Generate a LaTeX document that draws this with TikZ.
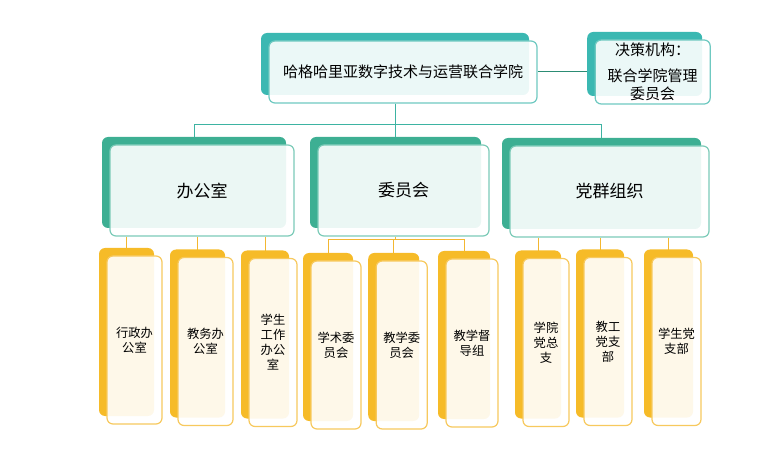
\documentclass[tikz,border=0pt]{standalone}
\usepackage{fontspec}
\newfontfamily\cjk{Noto Sans CJK SC}
\usetikzlibrary{positioning,shadows,backgrounds}

\definecolor{headteal}{HTML}{3BB8B2}
\definecolor{headline}{HTML}{6FC9C1}
\definecolor{deptgreen}{HTML}{3DAF93}
\definecolor{deptline}{HTML}{7CCBB8}
\definecolor{unityellow}{HTML}{F6BB28}
\definecolor{unitline}{HTML}{F7C95E}
\definecolor{linkteal}{HTML}{3DB3A2}
\definecolor{linkdark}{HTML}{2C8C74}
\definecolor{linkyellow}{HTML}{F3B731}

\tikzset{
  card/.style={draw, line width=1.2pt, rounded corners=6pt,
               fill=white, fill opacity=0.9, text opacity=1,
               inner sep=0pt, align=center},
  headcard/.style={card, draw=headline,
               general shadow={fill=headteal, draw=none, fill opacity=1,
                               shadow xshift=-8pt, shadow yshift=8pt},
               font=\cjk\fontsize{15}{18}\selectfont},
  deptcard/.style={card, draw=deptline, minimum height=91pt,
               general shadow={fill=deptgreen, draw=none, fill opacity=1,
                               shadow xshift=-8pt, shadow yshift=8pt},
               font=\cjk\fontsize{17}{20}\selectfont},
  unitcard/.style={card, draw=unitline, minimum height=168pt,
               general shadow={fill=unityellow, draw=none, fill opacity=1,
                               shadow xshift=-8pt, shadow yshift=8pt},
               font=\cjk\fontsize{12.3}{15}\selectfont},
  tealink/.style={draw=linkteal, line width=1pt},
  yellink/.style={draw=linkyellow, line width=1pt}
}

\begin{document}
\begin{tikzpicture}[x=1pt,y=-1pt]
 \useasboundingbox (0,0) rectangle (766,465);

 % Add the college and the board
 \node[headcard,
       minimum width=268pt,
       minimum height=62pt] (college) at (403,72) {哈格哈里亚数字技术与运营联合学院};
 \node[headcard,
       right=57pt of college,
       minimum width=115pt,
       minimum height=64pt] (board) {决策机构：\\[8pt]联合学院管理\\委员会};

 % Add the departments
 \node[deptcard, minimum width=184pt] (office) at (202,190.5) {办公室};
 \node[deptcard, minimum width=171pt] (comm)   at (403.5,190.5) {委员会};
 \node[deptcard, minimum width=199pt] (party)  at (609.5,191.5) {党群组织};

 % Add the units
 \node[unitcard, minimum width=55pt] (admin)   at (134.5,340) {行政办\\公室};
 \node[unitcard, minimum width=55pt] (teach)   at (205.5,341.5) {教务办\\公室};
 \node[unitcard, minimum width=48pt] (student) at (273,342.5) {学生\\工作\\办公\\室};
 \node[unitcard, minimum width=50pt] (acad)    at (336,345) {学术委\\员会};
 \node[unitcard, minimum width=51pt,
       right=14pt of acad] (tcomm)   {教学委\\员会};
 \node[unitcard, minimum width=52pt] (super)   at (472,343) {教学督\\导组};
 \node[unitcard, minimum width=46pt] (gbranch) at (546,342.5) {学院\\党总\\支};
 \node[unitcard, minimum width=48pt] (staff)   at (608,341.5) {教工\\党支\\部};
 \node[unitcard, minimum width=49pt] (sbranch) at (676.5,341.5) {学生党\\支部};

 % Connect the boxes
 \begin{scope}[on background layer]
  \draw[linkdark, line width=1pt] (college.east) -- (board.west);
  \draw[tealink] ([xshift=-8pt]college.south) -- ++(0,21) -| ([xshift=-8pt]office.north);
  \draw[tealink] ([xshift=-8pt]college.south) -- ++(0,21) -| ([xshift=-8pt]comm.north);
  \draw[tealink] ([xshift=-8pt]college.south) -- ++(0,21) -| ([xshift=-8pt]party.north);

  \draw[yellink] ([xshift=-8pt]admin.north |- office.south)   -- ([xshift=-8pt]admin.north);
  \draw[yellink] ([xshift=-8pt]teach.north |- office.south)   -- ([xshift=-8pt]teach.north);
  \draw[yellink] ([xshift=-8pt]student.north |- office.south) -- ([xshift=-8pt]student.north);

  \draw[yellink] ([xshift=-8pt]comm.south) -- ++(0,3) -| ([xshift=-8pt]acad.north);
  \draw[yellink] ([xshift=-8pt]comm.south) -- ++(0,3) -| ([xshift=-8pt]tcomm.north);
  \draw[yellink] ([xshift=-8pt]comm.south) -- ++(0,3) -| ([xshift=-8pt]super.north);

  \draw[yellink] ([xshift=-8pt]gbranch.north |- party.south) -- ([xshift=-8pt]gbranch.north);
  \draw[yellink] ([xshift=-8pt]staff.north |- party.south)   -- ([xshift=-8pt]staff.north);
  \draw[yellink] ([xshift=-8pt]sbranch.north |- party.south) -- ([xshift=-8pt]sbranch.north);
 \end{scope}
\end{tikzpicture}
\end{document}
